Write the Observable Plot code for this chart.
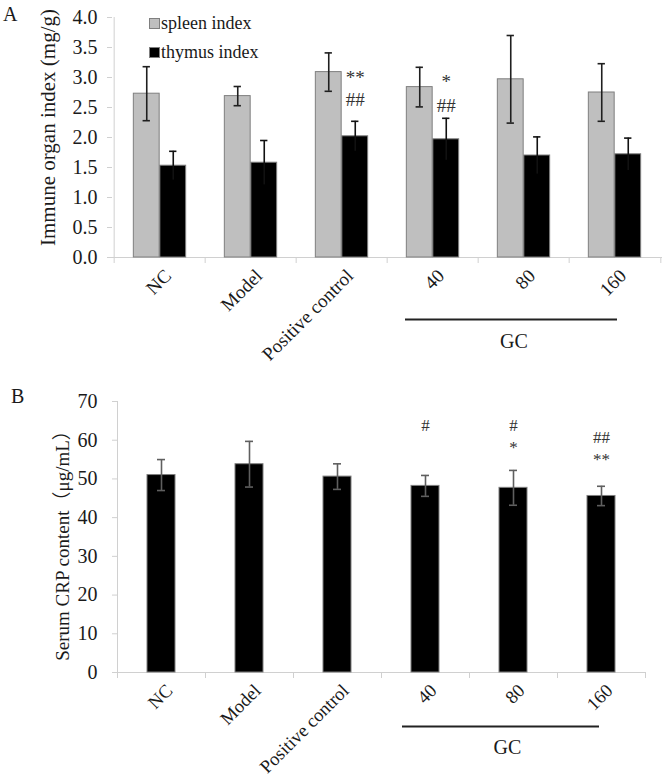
<!DOCTYPE html>
<html><head><meta charset="utf-8">
<script src="https://cdn.jsdelivr.net/npm/d3@7"></script>
<script src="https://cdn.jsdelivr.net/npm/@observablehq/plot@0.6"></script>
<style>
body{margin:0;background:#fff;}
#wrap{position:relative;width:666px;height:776px;overflow:hidden;font-family:"Liberation Serif","Times New Roman",serif;color:#1a1a1a;}
#wrap svg{display:block;}
.abs{position:absolute;white-space:nowrap;line-height:1;}
.sw{position:absolute;width:9px;height:9px;border:1px solid #7f7f7f;}
</style></head><body><div id="wrap"></div>
<script>
// ---- data ----
const groups = ["NC", "Model", "Positive control", "40", "80", "160"];
const spleen = [2.73, 2.69, 3.09, 2.84, 2.97, 2.75];
const spleenErr = [0.45, 0.16, 0.32, 0.33, 0.73, 0.48];
const thymus = [1.53, 1.58, 2.02, 1.97, 1.70, 1.72];
const thymusErr = [0.24, 0.37, 0.25, 0.35, 0.31, 0.27];
const crp = [51.0, 53.8, 50.6, 48.2, 47.7, 45.6];
const crpErr = [4.0, 5.9, 3.3, 2.7, 4.5, 2.5];
const yTicksA = [0, 0.5, 1, 1.5, 2, 2.5, 3, 3.5, 4];
const yTicksB = [0, 10, 20, 30, 40, 50, 60, 70];
const seriesNames = ["spleen index", "thymus index"];
const gcSpan = [{from: "40", mid: "80", to: "160", label: "GC"}];
const sigA = [
  {group: "Positive control", text: "**", y: 3.0},
  {group: "Positive control", text: "##", y: 2.63},
  {group: "40", text: "*", y: 2.92},
  {group: "40", text: "##", y: 2.52}
];
const sigB = [
  {group: "40", text: "#", y: 63.8},
  {group: "80", text: "#", y: 63.8},
  {group: "80", text: "*", y: 58.1},
  {group: "160", text: "##", y: 60.7},
  {group: "160", text: "**", y: 55.0}
];
const titleA = "Immune organ index (mg/g)";
const titleB = "Serum CRP content（μg/mL）";

// ---- tables ----
const spleenRows = groups.map((g, i) => ({group: g, value: spleen[i], err: spleenErr[i]}));
const thymusRows = groups.map((g, i) => ({group: g, value: thymus[i], err: thymusErr[i]}));
const crpRows = groups.map((g, i) => ({group: g, value: crp[i], err: crpErr[i]}));

const FONT = '"Liberation Serif","Times New Roman","Noto Sans CJK SC",serif';
const TXT = "#1a1a1a";
const AX = "#d0d0d0";

// ---- Panel A ----
const leftA = 112, rightA = 662;
const bwA = (rightA - leftA) / groups.length;
const barW = 26.5;
const inner = (bwA - 2 * barW) / 2;
const capW = 8;
const capInS = bwA / 2 - barW / 2 - capW / 2;
const capInL = bwA - capInS - capW;

const plotA = Plot.plot({
  width: 666, height: 395,
  marginLeft: leftA, marginRight: 666 - rightA, marginTop: 17, marginBottom: 138,
  style: {fontFamily: FONT, fontSize: "20px", color: TXT, background: "white", overflow: "visible"},
  x: {domain: groups, padding: 0, axis: null},
  y: {domain: [0, 4], axis: null},
  marks: [
    Plot.ruleY([0], {stroke: AX}),
    Plot.ruleX([groups[0]], {x: d => d, dx: -bwA / 2, y1: 0, y2: 4, stroke: AX}),
    Plot.ruleX(groups, {x: d => d, dx: -bwA / 2, y1: 0, y2: 0, insetBottom: -6, stroke: AX}),
    Plot.ruleX([groups[groups.length - 1]], {x: d => d, dx: bwA / 2, y1: 0, y2: 0, insetBottom: -6, stroke: AX}),
    Plot.axisY({ticks: yTicksA, tickFormat: d3.format(".1f"), tickSize: 5, tickPadding: 10, stroke: AX, fill: TXT, label: null, fontSize: 20}),
    Plot.text(groups, {x: d => d, y: () => 0, text: d => d, rotate: -45, textAnchor: "end", lineAnchor: "top", dx: 3, dy: 10, fill: TXT, fontSize: 19}),
    Plot.barY(spleenRows, {x: "group", y: "value", fill: "#bfbfbf", stroke: "#7f7f7f", strokeWidth: 1, insetLeft: inner, insetRight: inner + barW}),
    Plot.barY(thymusRows, {x: "group", y: "value", fill: "#000", stroke: "#7f7f7f", strokeWidth: 1, insetLeft: inner + barW, insetRight: inner}),
    Plot.ruleX(spleenRows, {x: "group", y1: d => d.value - d.err, y2: d => d.value + d.err, dx: -barW / 2, stroke: "#1f1f1f", strokeWidth: 1.6}),
    Plot.tickY(spleenRows, {x: "group", y: d => d.value - d.err, insetLeft: capInS, insetRight: capInL, stroke: "#1f1f1f", strokeWidth: 1.6}),
    Plot.tickY(spleenRows, {x: "group", y: d => d.value + d.err, insetLeft: capInS, insetRight: capInL, stroke: "#1f1f1f", strokeWidth: 1.6}),
    Plot.ruleX(thymusRows, {x: "group", y1: d => d.value - d.err, y2: d => d.value + d.err, dx: barW / 2, stroke: "#111", strokeWidth: 1.6}),
    Plot.tickY(thymusRows, {x: "group", y: d => d.value + d.err, insetLeft: capInL, insetRight: capInS, stroke: "#111", strokeWidth: 1.6}),
    Plot.text(sigA, {x: "group", y: "y", text: "text", dx: barW / 2, fill: "#333", fontSize: 19}),
    Plot.ruleY(gcSpan, {y: () => 0, x1: "from", x2: "to", dy: 62, insetLeft: 18, insetRight: 43, stroke: "#222", strokeWidth: 2}),
    Plot.text(gcSpan, {x: "mid", y: () => 0, text: "label", dy: 84, dx: -10, fill: TXT, fontSize: 20}),
    Plot.text([titleA], {text: d => d, frameAnchor: "left", textAnchor: "middle", rotate: -90, dx: -64, dy: -10, fill: TXT, fontSize: 21})
  ]
});

// ---- Panel B ----
const leftB = 117, rightB = 645;
const bwB = (rightB - leftB) / groups.length;
const barWB = 28;
const capInB = (bwB - capW) / 2;

const plotB = Plot.plot({
  width: 666, height: 381,
  marginLeft: leftB, marginRight: 666 - rightB, marginTop: 6, marginBottom: 104,
  style: {fontFamily: FONT, fontSize: "20px", color: TXT, background: "white", overflow: "visible"},
  x: {domain: groups, padding: 0, axis: null},
  y: {domain: [0, 70], axis: null},
  marks: [
    Plot.ruleY([0], {stroke: AX}),
    Plot.ruleX([groups[0]], {x: d => d, dx: -bwB / 2, y1: 0, y2: 70, stroke: AX}),
    Plot.ruleX(groups, {x: d => d, dx: -bwB / 2, y1: 0, y2: 0, insetBottom: -6, stroke: AX}),
    Plot.ruleX([groups[groups.length - 1]], {x: d => d, dx: bwB / 2, y1: 0, y2: 0, insetBottom: -6, stroke: AX}),
    Plot.axisY({ticks: yTicksB, tickSize: 5, tickPadding: 15, stroke: AX, fill: TXT, label: null, fontSize: 20}),
    Plot.text(groups, {x: d => d, y: () => 0, text: d => d, rotate: -45, textAnchor: "end", lineAnchor: "top", dx: 3, dy: 10, fill: TXT, fontSize: 18.5}),
    Plot.barY(crpRows, {x: "group", y: "value", fill: "#000", stroke: "#7f7f7f", strokeWidth: 1, insetLeft: (bwB - barWB) / 2, insetRight: (bwB - barWB) / 2}),
    Plot.ruleX(crpRows, {x: "group", y1: d => d.value - d.err, y2: d => d.value + d.err, stroke: "#5f5f5f", strokeWidth: 1.6}),
    Plot.tickY(crpRows, {x: "group", y: d => d.value - d.err, insetLeft: capInB, insetRight: capInB, stroke: "#5f5f5f", strokeWidth: 1.6}),
    Plot.tickY(crpRows, {x: "group", y: d => d.value + d.err, insetLeft: capInB, insetRight: capInB, stroke: "#5f5f5f", strokeWidth: 1.6}),
    Plot.text(sigB, {x: "group", y: "y", text: "text", fill: "#333", fontSize: 17}),
    Plot.ruleY(gcSpan, {y: () => 0, x1: "from", x2: "to", dy: 54, insetLeft: 21, insetRight: 46, stroke: "#222", strokeWidth: 2}),
    Plot.text(gcSpan, {x: "mid", y: () => 0, text: "label", dy: 75, dx: -6, fill: TXT, fontSize: 20}),
    Plot.text([titleB], {text: d => d, frameAnchor: "left", textAnchor: "middle", rotate: -90, dx: -55, dy: 4, fill: TXT, fontSize: 19})
  ]
});

const wrap = document.getElementById("wrap");
wrap.appendChild(plotA);
wrap.appendChild(plotB);

// panel letters and legend
function addText(txt, left, top, size) {
  const d = document.createElement("div");
  d.className = "abs";
  d.textContent = txt;
  d.style.left = left + "px";
  d.style.top = top + "px";
  d.style.fontSize = size + "px";
  wrap.appendChild(d);
  return d;
}
addText("A", 3, 4, 20);
addText("B", 11, 386, 20);
const swFill = ["#bfbfbf", "#000"];
seriesNames.forEach((s, i) => {
  const sq = document.createElement("div");
  sq.className = "sw";
  sq.style.left = "149px";
  sq.style.top = (18 + i * 29) + "px";
  sq.style.background = swFill[i];
  wrap.appendChild(sq);
  addText(s, 161, 14 + i * 29, 18);
});
</script></body></html>
